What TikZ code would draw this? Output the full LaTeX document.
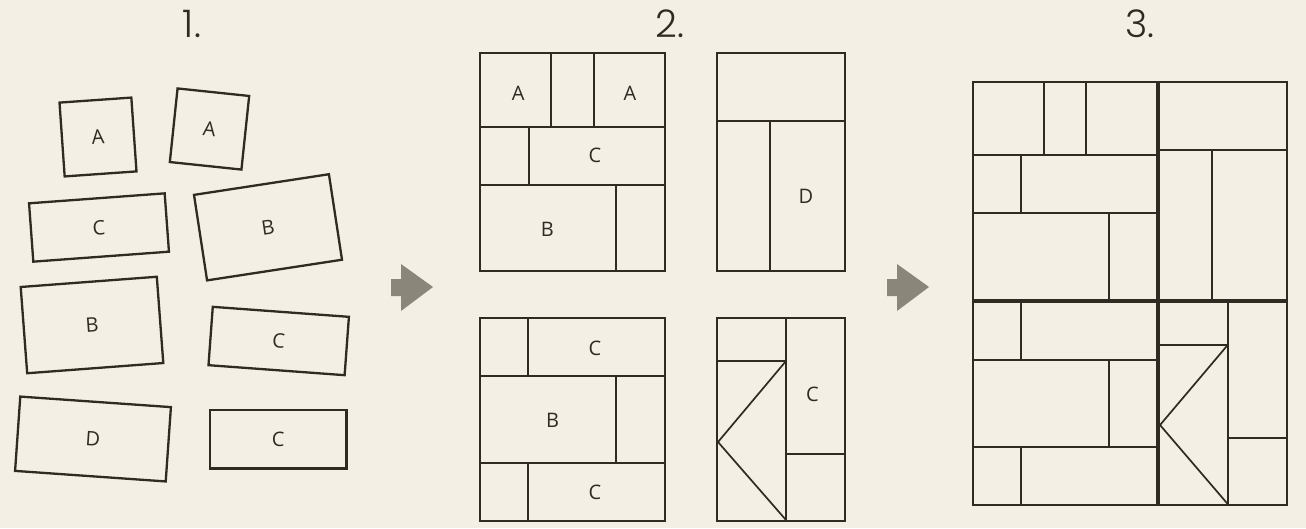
\documentclass[tikz,border=0pt]{standalone}
\usepackage{fontspec}
\setmainfont{Open Sans}
\newfontfamily\headfont{Poppins Light}
\usepackage{tikz}
\usetikzlibrary{positioning}

\definecolor{paper}{HTML}{F4EFE5}
\definecolor{ink}{HTML}{2F2A22}
\definecolor{arrowgrey}{HTML}{8B867A}

\begin{document}
\begin{tikzpicture}[
    x=1pt, y=-1pt,
    line width=2.3pt, draw=ink,
    piece/.style={draw=ink, line width=2.3pt, inner sep=0pt, font=\fontsize{20}{20}\selectfont, text=ink},
    letter/.style={inner sep=0pt, font=\fontsize{20}{20}\selectfont, text=ink},
    heading/.style={inner sep=0pt, font=\headfont\fontsize{38}{38}\selectfont, text=ink}
]

\useasboundingbox[fill=paper] (0,0) rectangle (1306,528);

% headings
\node[heading] (h1) at (192,24) {1.};
\node[heading] (h2) at (670,24) {2.};
\node[heading] (h3) at (1140,24) {3.};

% loose pieces
\node[piece, minimum width=72pt, minimum height=74pt, rotate=4] (a1) at (98,137) {A};
\node[piece, minimum width=72pt, minimum height=74pt, rotate=-6] (a2) at (209.5,129) {A};
\node[piece, minimum width=136pt, minimum height=58.5pt, rotate=4.2] (c1) at (99,227.5) {C};
\node[piece, minimum width=136.5pt, minimum height=86.5pt, rotate=8.7] (b1) at (268,227.3) {B};
\node[piece, minimum width=136.5pt, minimum height=86.5pt, rotate=4.3] (b2) at (92,325) {B};
\node[piece, minimum width=136.5pt, minimum height=58.5pt, rotate=-4.2] (c2) at (278.7,341) {C};
\node[piece, minimum width=151pt, minimum height=74.5pt, rotate=-4] (d1) at (93,439) {D};
\node[piece, minimum width=136.5pt, minimum height=58.5pt] (c3) at (278.3,439.2) {C};

% arrows
\foreach \ax in {391,887}
  \fill[arrowgrey] (\ax,279) -- (\ax+10,279) -- (\ax+10,264) -- (\ax+42,287)
    -- (\ax+10,311) -- (\ax+10,296) -- (\ax,296) -- cycle;

% step 2, top left block
\draw (480,53) rectangle (665,271);
\draw (480,127) -- (665,127) (480,185) -- (665,185);
\draw (551,53) -- (551,127) (594,53) -- (594,127);
\draw (528.7,127) -- (528.7,185) (616.3,185) -- (616.3,271);
\node[letter] (ta1) at (518.3,93.3) {A};
\node[letter] (ta2) at (630,93.3) {A};
\node[letter] (tc) at (595,155.7) {C};
\node[letter] (tb) at (547.3,229) {B};

% step 2, top right block
\draw (717,53) rectangle (845,271);
\draw (717,121) -- (845,121) (770,121) -- (770,271);
\node[letter] (td) at (806,196.7) {D};

% step 2, bottom left block
\draw (480,318) rectangle (665,521);
\draw (480,376) -- (665,376) (480,463) -- (665,463);
\draw (528.3,318) -- (528.3,376) (616,376) -- (616,463) (528.3,463) -- (528.3,521);
\node[letter] (bc1) at (595,348.3) {C};
\node[letter] (bb) at (552.7,420.7) {B};
\node[letter] (bc2) at (595,492.7) {C};

% step 2, bottom right block
\draw (717,318) rectangle (845,521);
\draw (786,318) -- (786,521) (717,361) -- (786,361) (786,454) -- (845,454);
\draw[line width=1.7pt] (786,361) -- (718,442) -- (786,520);
\node[letter] (bc3) at (812.3,394.3) {C};

% step 3, joined quilt
\draw (973,82) rectangle (1287,505);
\draw[line width=3.4pt] (1158,82) -- (1158,505) (973,301) -- (1287,301);
% top left
\draw (1043.7,82) -- (1043.7,154.7) (1086.3,82) -- (1086.3,154.7);
\draw (973,154.7) -- (1158,154.7) (973,213.3) -- (1158,213.3);
\draw (1021.3,154.7) -- (1021.3,213.3) (1108.7,213.3) -- (1108.7,301);
% top right
\draw (1158,150) -- (1287,150) (1211.7,150) -- (1211.7,301);
% bottom left
\draw (973,360.3) -- (1158,360.3) (973,446.7) -- (1158,446.7);
\draw (1021.3,301) -- (1021.3,360.3) (1109,360.3) -- (1109,446.7) (1021.3,446.7) -- (1021.3,505);
% bottom right
\draw (1227.7,301) -- (1227.7,505) (1158,345) -- (1227.7,345) (1227.7,437.7) -- (1287,437.7);
\draw[line width=1.7pt] (1227.7,345) -- (1160,425) -- (1227.7,504);

\end{tikzpicture}
\end{document}
